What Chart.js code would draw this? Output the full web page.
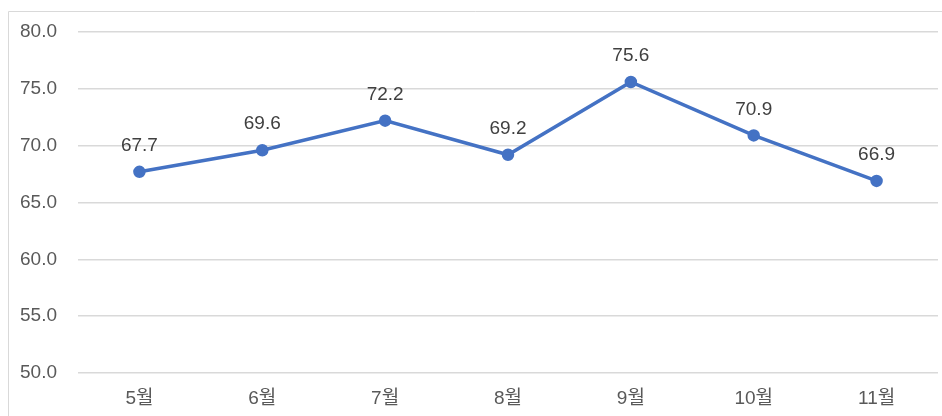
<!DOCTYPE html>
<html>
<head>
<meta charset="utf-8">
<script src="https://cdn.jsdelivr.net/npm/chart.js@4/dist/chart.umd.min.js"></script>
<style>
  html, body { margin: 0; padding: 0; background: #ffffff; }
  #wrap { width: 942px; height: 416px; position: relative; }
</style>
</head>
<body>
<div id="wrap"><canvas id="c" width="942" height="416"></canvas></div>
<script>
const categories = ["5월", "6월", "7월", "8월", "9월", "10월", "11월"];
const values = [67.7, 69.6, 72.2, 69.2, 75.6, 70.9, 66.9];
const yMin = 50, yMax = 80, yStep = 5;

const FONT = '"Liberation Sans", "Noto Sans CJK KR", sans-serif';

const frame = {
  id: 'frame',
  beforeDraw(chart) {
    const ctx = chart.ctx;
    ctx.save();
    ctx.strokeStyle = '#d9d9d9';
    ctx.lineWidth = 1;
    ctx.beginPath();
    ctx.moveTo(8.5, 416);
    ctx.lineTo(8.5, 11.5);
    ctx.lineTo(942, 11.5);
    ctx.stroke();
    ctx.restore();
  }
};

const labels = {
  id: 'labels',
  afterDatasetsDraw(chart) {
    const ctx = chart.ctx;
    const meta = chart.getDatasetMeta(0);
    ctx.save();
    ctx.font = '19px ' + FONT;
    ctx.fillStyle = '#404040';
    ctx.textAlign = 'center';
    ctx.textBaseline = 'middle';
    meta.data.forEach((pt, i) => {
      ctx.fillText(values[i].toFixed(1), pt.x, pt.y - 26);
    });
    ctx.restore();
  }
};

new Chart(document.getElementById('c'), {
  type: 'line',
  data: {
    labels: categories,
    datasets: [{
      data: values,
      borderColor: '#4472C4',
      backgroundColor: '#4472C4',
      borderWidth: 3.5,
      pointRadius: 4.5,
      pointBackgroundColor: '#4472C4',
      pointBorderColor: '#4472C4',
      tension: 0
    }]
  },
  options: {
    responsive: false,
    animation: false,
    devicePixelRatio: 1,
    layout: { autoPadding: false, padding: { left: 0, right: 4, top: 32, bottom: 0 } },
    plugins: { legend: { display: false }, tooltip: { enabled: false } },
    scales: {
      x: {
        offset: true,
        grid: { display: false, drawTicks: false, offset: true },
        border: { display: false },
        ticks: { color: '#595959', font: { size: 19, family: FONT }, padding: 14 },
        afterFit(s) { s.height = 43; s.paddingLeft = 0; s.paddingRight = 0; }
      },
      y: {
        min: yMin, max: yMax,
        grid: { color: '#d9d9d9', lineWidth: 1.5, drawTicks: false },
        border: { display: false },
        ticks: {
          stepSize: yStep,
          color: '#595959',
          font: { size: 19, family: FONT },
          padding: 21,
          callback: v => v.toFixed(1)
        },
        afterFit(s) { s.width = 78; s.paddingTop = 0; s.paddingBottom = 0; }
      }
    }
  },
  plugins: [frame, labels]
});
</script>
</body>
</html>
